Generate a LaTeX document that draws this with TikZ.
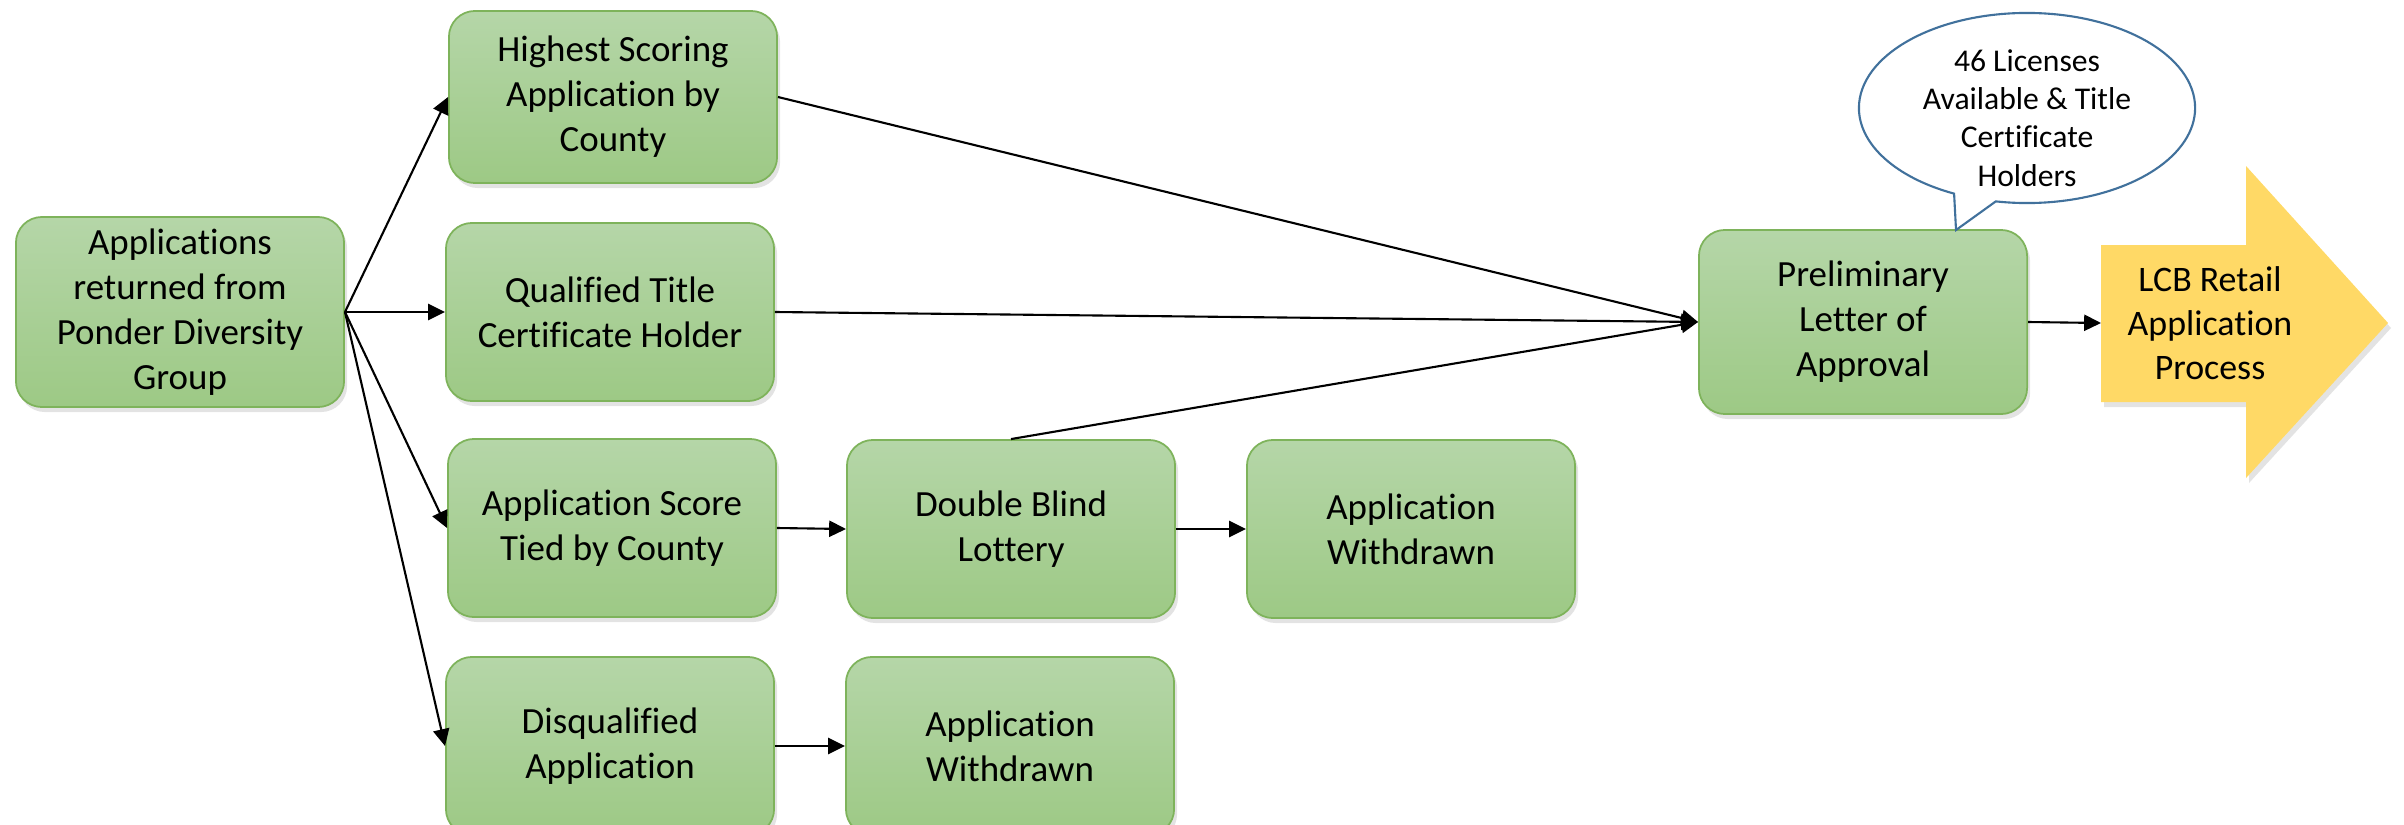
\documentclass[tikz,border=0pt]{standalone}
\usepackage{fontspec}
\setmainfont{Carlito}[Ligatures=NoCommon]
\usetikzlibrary{shapes.callouts,shadows,arrows.meta}
\definecolor{boxtop}{HTML}{B5D6A8}
\definecolor{boxbot}{HTML}{9DC985}
\definecolor{boxline}{HTML}{7EB35B}
\definecolor{lcbgold}{HTML}{FFD966}
\definecolor{noteblue}{HTML}{41719C}
\tikzset{
    stage/.style={rectangle, rounded corners=0.26cm, draw=boxline, line width=0.5pt,
        top color=boxtop, bottom color=boxbot, minimum width=3.28cm, minimum height=1.78cm,
        align=center, font=\fontsize{10.5}{12.8}\selectfont,
        drop shadow={opacity=0.22, shadow xshift=0.03cm, shadow yshift=-0.05cm}},
    flow/.style={-{Triangle[length=4.8pt,width=4.6pt]}, line width=0.6pt},
}
\begin{document}
\begin{tikzpicture}[x=0.01cm, y=-0.01cm]
            \useasboundingbox (0, 0) rectangle (2404, 824);

            %%the boxes
            \node[stage] (apps) at (180, 312){Applications\\returned from\\Ponder Diversity\\Group};
            \node[stage, minimum height=1.72cm] (highest) at (613, 97){Highest Scoring\\Application by\\County};
            \node[stage] (qualified) at (610, 312){Qualified Title\\Certificate Holder};
            \node[stage] (tied) at (612, 528){Application Score\\Tied by County};
            \node[stage] (disq) at (610, 746){Disqualified\\Application};
            \node[stage] (lottery) at (1011, 529){Double Blind\\Lottery};
            \node[stage] (wdrawn) at (1411, 529){Application\\Withdrawn};
            \node[stage] (wdrawnlow) at (1010, 746){Application\\Withdrawn};
            \node[stage, minimum height=1.84cm] (prelim) at (1863, 322){Preliminary\\Letter of\\Approval};

            %%the big arrow
            \fill[lcbgold, drop shadow={opacity=0.22, shadow xshift=0.03cm, shadow yshift=-0.05cm}]
                (2101, 245) -- (2246, 245) -- (2246, 166) -- (2388, 323)
                -- (2246, 478) -- (2246, 402) -- (2101, 402) -- cycle;
            \coordinate (lcbin) at (2101, 323);
            \node[align=center, font=\fontsize{10.2}{12.6}\selectfont] (lcb) at (2210, 323){LCB Retail\\Application\\Process};

            %%the callout
            \node[ellipse callout, draw=noteblue, fill=white, line width=0.6pt,
                minimum width=3.36cm, minimum height=1.9cm, inner xsep=0pt, inner ysep=0pt,
                font=\fontsize{9}{10.9}\selectfont,
                callout absolute pointer={(1956, 230)}] (note) at (2027, 108)
                {\raisebox{-0.21cm}[0pt][0pt]{\begin{tabular}{@{}c@{}}46 Licenses\\Available \& Title\\Certificate\\Holders\end{tabular}}};

            %%draw the arrows
            \draw[flow] (apps.east) -- (highest.west);
            \draw[flow] (apps.east) -- (qualified.west);
            \draw[flow] (apps.east) -- (tied.west);
            \draw[flow] (apps.east) -- (disq.west);
            \draw[flow] (highest.east) -- (prelim.west);
            \draw[flow] (qualified.east) -- (prelim.west);
            \draw[flow] (lottery.north) -- (prelim.west);
            \draw[flow] (tied.east) -- (lottery.west);
            \draw[flow] (lottery.east) -- (wdrawn.west);
            \draw[flow] (disq.east) -- (wdrawnlow.west);
            \draw[flow] (prelim.east) -- (lcbin);
\end{tikzpicture}
\end{document}
